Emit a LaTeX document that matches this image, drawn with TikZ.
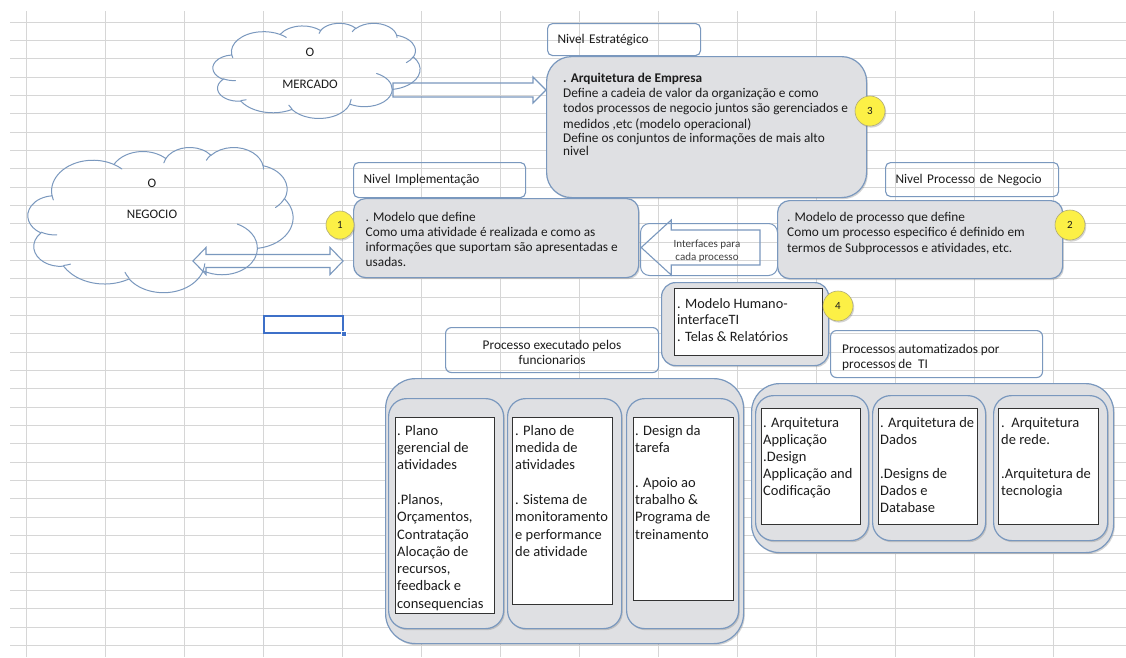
\documentclass[tikz,border=0pt]{standalone}
\usepackage{fontspec}
\setmainfont{Carlito}
\usetikzlibrary{shadows,calc}

\definecolor{gridln}{RGB}{214,214,214}
\definecolor{edge}{RGB}{122,152,190}
\definecolor{panel}{RGB}{223,224,227}
\definecolor{ink}{RGB}{28,28,28}
\definecolor{badgefill}{RGB}{252,240,70}
\definecolor{badgeedge}{RGB}{175,170,120}
\definecolor{selblue}{RGB}{62,112,200}

\newcommand{\fbody}{\fontsize{13.3}{15.3}\selectfont}
\newcommand{\fproc}{\fontsize{13.3}{15.5}\selectfont}
\newcommand{\fmod}{\fontsize{13.3}{15}\selectfont}
\newcommand{\fcol}{\fontsize{14.5}{17.3}\selectfont}
\newcommand{\fcolr}{\fontsize{14.5}{17}\selectfont}
\newcommand{\fhum}{\fontsize{14.3}{16.5}\selectfont}
\newcommand{\flab}{\fontsize{13.3}{15}\selectfont}
\newcommand{\fsmall}{\fontsize{11}{13}\selectfont}
\newcommand{\fbadge}{\fontsize{11}{13}\selectfont}
\newcommand{\fcloud}{\fontsize{13}{13}\selectfont}

% parametric angle of the point seen at angle #1 on an ellipse with radii #2, #3
\pgfmathdeclarefunction{vang}{3}{%
  \begingroup
  \pgfmathparse{atan2(sin(#1)/#3,cos(#1)/#2)}%
  \pgfmathsmuggle\pgfmathresult
  \endgroup}

\begin{document}
\begin{tikzpicture}[x=1pt,y=-1pt,
  every node/.style={text=ink},
  softshadow/.style={drop shadow={shadow xshift=1.2pt,shadow yshift=-1.6pt,opacity=0.3,fill=black!55}},
  sz/.style 2 args={minimum width=#1pt,minimum height=#2pt},
  panelbox/.style={draw=edge,line width=1.2pt,fill=panel,inner sep=0pt,anchor=north west,softshadow},
  tagbox/.style={draw=edge,line width=1.1pt,rounded corners=5pt,anchor=north west,inner xsep=10pt,inner ysep=0pt,align=left,font=\flab},
  paper/.style={draw=black!80,line width=0.8pt,fill=white,inner sep=0pt,anchor=north west,drop shadow={shadow xshift=0.8pt,shadow yshift=-0.8pt,opacity=0.25}},
  txt/.style={anchor=north west,inner sep=0pt,align=left},
  badge/.style={circle,fill=badgefill,draw=badgeedge,line width=0.6pt,minimum size=#1pt,inner sep=0pt,font=\fbadge,softshadow},
  badge/.default=30,
  blockarrow/.style={draw=edge,line width=1.1pt,line join=miter},
  cloudtext/.style={font=\fcloud,inner sep=0pt},
  puffline/.style={draw=edge,line width=1pt,line cap=round},
  % elliptic arc given by radii, start angle and sweep as seen from the centre
  oarc/.style n args={4}{x radius=#1,y radius=#2,
    start angle={vang(#3,#1,#2)},
    delta angle={mod(vang(#3+#4,#1,#2)-vang(#3,#1,#2)+720,360)}},
]
\useasboundingbox (0,0) rectangle (1126,657);
\fill[white] (0,0) rectangle (1126,657);

% spreadsheet grid
\foreach \k in {0,...,34}{
  \draw[gridln,line width=0.7pt] (10,{22+18.333*\k}) -- (1126,{22+18.333*\k});
}
\foreach \x in {26,105,...,1053}{
  \draw[gridln,line width=0.7pt] (\x,11) -- (\x,657);
}

% selected cell
\node[draw=selblue,line width=2pt,sz={79}{17},anchor=north west,inner sep=0pt] (sel) at (263,315) {};
\node[fill=selblue,draw=white,line width=0.6pt,minimum size=5.5pt,inner sep=0pt] (selh) at (sel.south east) {};

% cloud outline in a 432 x 432 box
\tikzset{
  puffcloud/.pic={
    \draw[puffline] (39.00,143.70)
      arc[oarc={67.53}{91.90}{-190.4875}{123.7805}]
      arc[oarc={53.33}{72.67}{-144.1024}{89.9452}]
      arc[oarc={43.65}{59.45}{-145.8079}{99.7230}]
      arc[oarc={48.57}{65.95}{-130.9861}{117.2417}]
      arc[oarc={53.33}{72.73}{-78.7089}{109.0269}]
      arc[oarc={67.75}{92.20}{-46.2673}{130.2690}]
      arc[oarc={57.85}{78.67}{0.6250}{114.0333}]
      arc[oarc={67.52}{92.15}{22.4516}{115.1726}]
      arc[oarc={77.20}{105.43}{66.2426}{75.7110}]
      arc[oarc={43.60}{59.18}{-274.9421}{146.7356}]
      arc[oarc={43.45}{59.45}{-246.8285}{152.5189}]
      -- cycle;
    \draw[puffline] (46.93,261.77) arc[oarc={43.45}{59.45}{86.7420}{26.4295}];
    \draw[puffline] (69.28,348.99) arc[oarc={43.60}{59.18}{73.6105}{11.4475}];
    \draw[puffline] (164.78,390.90) arc[oarc={67.52}{92.15}{137.6242}{14.0811}];
    \draw[puffline] (288.27,347.51) arc[oarc={67.52}{92.15}{6.4533}{15.9984}];
    \draw[puffline] (341.29,229.54) arc[oarc={57.85}{78.67}{-70.2924}{70.9174}];
    \draw[puffline] (417.98,153.54) arc[oarc={53.33}{72.73}{30.3180}{27.7515}];
    \draw[puffline] (383.24,54.26) arc[oarc={48.57}{65.95}{-13.7443}{14.8589}];
    \draw[puffline] (290.78,39.52) arc[oarc={48.57}{65.95}{-149.1815}{18.1954}];
    \draw[puffline] (221.41,47.20) arc[oarc={43.65}{59.45}{-163.4943}{17.6864}];
    \draw[puffline] (140.00,51.92) arc[oarc={67.53}{91.90}{-66.7070}{12.3194}];
    \draw[puffline] (41.27,157.89) arc[oarc={67.53}{91.90}{157.6544}{11.8582}];
  }
}

% clouds
\pic[shift={(213,23)},xscale=0.4792,yscale=0.2199] (mkt) {puffcloud};
\node[cloudtext] (mktO) at (310,52) {O};
\node[cloudtext] (mktT) at (310,84) {MERCADO};

\pic[shift={(28,147)},xscale=0.6134,yscale=0.3356] (neg) {puffcloud};
\node[cloudtext] (negO) at (152,183) {O};
\node[cloudtext] (negT) at (152,214) {NEGOCIO};

% strategic level
\node[tagbox,sz={153}{32},text width=133pt] (tagE) at (547,23) {Nivel Estratégico};
\node[panelbox,sz={320}{141},rounded corners=25pt] (arq) at (546,56) {};
\node[txt,font=\fbody] (arqT) at (563,71.3) {\strut\textbf{. Arquitetura de Empresa}\\
Define a cadeia de valor da organização e como\\
todos processos de negocio juntos são gerenciados e\\
medidos ,etc (modelo operacional)\\[-1.3pt]
Define os conjuntos de informações de mais alto\\[-2.3pt]
nivel};
\node[badge] (b3) at (870,111) {3};

% implementation level
\node[tagbox,sz={172}{35},text width=152pt] (tagI) at (353,162) {Nivel Implementação};
\node[panelbox,sz={285}{79},rounded corners=12pt] (impl) at (353,198) {};
\node[txt,font=\fmod] (implT) at (365.5,210.5) {\strut. Modelo que define\\
Como uma atividade é realizada e como as\\
informações que suportam são apresentadas e\\
usadas.};
\node[badge=28] (b1) at (340,225) {1};

% business process level
\node[tagbox,sz={173}{34},text width=153pt] (tagP) at (885,162) {Nivel Processo de Negocio};
\node[panelbox,sz={285}{78},rounded corners=12pt] (proc) at (777,200) {};
\node[txt,font=\fproc] (procT) at (787,210.2) {\strut. Modelo de processo que define\\
Como um processo especifico é definido em\\
termos de Subprocessos e atividades, etc.};
\node[badge] (b2) at (1070,225) {2};

% interfaces arrow (points back to the implementation model)
\node[draw=edge,line width=1pt,rounded corners=9pt,sz={137}{52},anchor=north west,inner sep=0pt] (ifr) at (640,223) {};
\coordinate (ifTip) at (impl.east |- 0,247.5);
\coordinate (ifEnd) at (760,247.5);
\draw[blockarrow] ($(ifTip)+(2,0)$) -- ($(ifTip)+(32,-27.5)$) -- ($(ifTip)+(32,-17.5)$)
  -- ($(ifEnd)+(0,-17.5)$) -- ($(ifEnd)+(0,17.5)$) -- ($(ifTip)+(32,17.5)$)
  -- ($(ifTip)+(32,27.5)$) -- cycle;
\node[font=\fsmall,align=center,inner sep=0pt,anchor=north,text=black!75] (ifT) at (707,238.5) {\strut Interfaces para\\cada processo};

% human interface model
\node[panelbox,sz={167}{83},rounded corners=14pt] (hum) at (661,282) {};
\node[paper,sz={148}{67}] (humP) at (674,288) {};
\node[txt,font=\fhum] (humT) at (677,296.5) {\strut. Modelo Humano-\\interfaceTI\\. Telas \& Relatórios};
\node[badge] (b4) at (838,306) {4};

% group captions
\node[draw=edge,line width=1.1pt,rounded corners=6pt,sz={213}{45},anchor=north west,inner sep=0pt] (tagF) at (445,327) {};
\node[font=\flab,align=center,inner sep=0pt,anchor=north] (tagFT) at (552,338.5) {\strut Processo executado pelos\\funcionarios};

\node[draw=edge,line width=1.1pt,rounded corners=6pt,sz={212}{47},anchor=north west,inner sep=0pt] (tagA) at (830,330) {};
\node[txt,font=\flab] (tagAT) at (842,342.5) {\strut Processos automatizados por\\processos de\ \ TI};

% processes executed by staff
\node[panelbox,sz={358}{265},rounded corners=30pt] (grpF) at (385,378) {};
\node[panelbox,sz={115}{230},rounded corners=18pt] (colF1) at (388,398) {};
\node[panelbox,sz={114}{230},rounded corners=18pt] (colF2) at (507,398) {};
\node[panelbox,sz={112}{230},rounded corners=18pt] (colF3) at (626,398) {};
\node[paper,sz={99}{196}] (pF1) at (395,417) {};
\node[paper,sz={100}{187}] (pF2) at (512,417) {};
\node[paper,sz={100}{183}] (pF3) at (633,417) {};
\node[txt,font=\fcol] (tF1) at (397,422.9) {\strut. Plano\\gerencial de\\atividades\\[17.3pt]
.Planos,\\Orçamentos,\\Contratação\\Alocação de\\recursos,\\feedback e\\consequencias};
\node[txt,font=\fcol] (tF2) at (515,422.9) {\strut. Plano de\\medida de\\atividades\\[17.3pt]
. Sistema de\\monitoramento\\e performance\\de atividade};
\node[txt,font=\fcol] (tF3) at (635,422.9) {\strut. Design da\\tarefa\\[17.3pt]
. Apoio ao\\trabalho \&\\Programa de\\treinamento};

% processes automated by IT
\node[panelbox,sz={362}{169},rounded corners=28pt] (grpA) at (751,383) {};
\node[panelbox,sz={113}{145},rounded corners=18pt] (colA1) at (755,395) {};
\node[panelbox,sz={113}{145},rounded corners=18pt] (colA2) at (872,395) {};
\node[panelbox,sz={114}{145},rounded corners=18pt] (colA3) at (993,395) {};
\node[paper,sz={99}{116}] (pA1) at (761,408) {};
\node[paper,sz={99}{116}] (pA2) at (878,408) {};
\node[paper,sz={100}{116}] (pA3) at (998,408) {};
\node[txt,font=\fcolr] (tA1) at (763,415.1) {\strut. Arquitetura\\Applicação\\.Design\\Applicação and\\Codificação};
\node[txt,font=\fcolr] (tA2) at (880,415.1) {\strut. Arquitetura de\\Dados\\[17pt]
.Designs de\\Dados e\\Database};
\node[txt,font=\fcolr] (tA3) at (1001,415.1) {\strut.\ \ Arquitetura\\de rede.\\[17pt]
.Arquitetura de\\tecnologia};

% market -> enterprise architecture
\coordinate (mA) at (393,90);
\coordinate (mB) at (arq.west |- mA);
\draw[blockarrow] ($(mA)+(0,-7)$) -- ($(mB)+(-13,-7)$) -- ($(mB)+(-13,-13)$) -- (mB)
  -- ($(mB)+(-13,13)$) -- ($(mB)+(-13,7)$) -- ($(mA)+(0,7)$) -- cycle;

% business <-> implementation model
\coordinate (nA) at (193,261);
\coordinate (nB) at ($(impl.west |- nA)+(-10,0)$);
\draw[blockarrow] (nA) -- ($(nA)+(13,-13.5)$) -- ($(nA)+(13,-6.5)$) -- ($(nB)+(-13,-6.5)$)
  -- ($(nB)+(-13,-13.5)$) -- (nB) -- ($(nB)+(-13,13.5)$) -- ($(nB)+(-13,6.5)$)
  -- ($(nA)+(13,6.5)$) -- ($(nA)+(13,13.5)$) -- cycle;
\end{tikzpicture}
\end{document}
